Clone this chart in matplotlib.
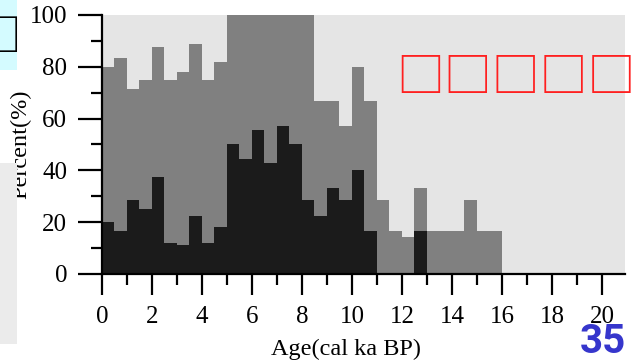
import numpy as np
import matplotlib
matplotlib.use('Agg')
import matplotlib.pyplot as plt
from matplotlib.patches import Rectangle

# bins of 0.5 ka, left edges
bin_start = [0.0, 0.5, 1.0, 1.5, 2.0, 2.5, 3.0, 3.5, 4.0, 4.5,
             5.0, 5.5, 6.0, 6.5, 7.0, 7.5, 8.0, 8.5, 9.0, 9.5,
             10.0, 10.5, 11.0, 11.5, 12.0, 12.5, 13.0, 13.5, 14.0, 14.5,
             15.0, 15.5]
# grey (total) percentages
total_pct = [80, 83.3, 71.4, 75, 87.5, 75, 77.8, 88.9, 75, 81.8,
             100, 100, 100, 100, 100, 100, 100, 66.7, 66.7, 57.1,
             80, 66.7, 28.6, 16.7, 14.3, 33.3, 16.7, 16.7, 16.7, 28.6,
             16.7, 16.7]
# black percentages
dark_pct = [20, 16.7, 28.6, 25, 37.5, 12, 11.1, 22.2, 12, 18.2,
            50, 44.4, 55.6, 42.9, 57.1, 50, 28.6, 22.2, 33.3, 28.6,
            40, 16.7, 0, 0, 0, 16.7, 0, 0, 0, 0,
            0, 0]
title_text = '□□□□□'
side_text = '□'

plt.rcParams['font.family'] = ['Liberation Serif', 'DejaVu Serif']
cjk = ['Noto Sans CJK SC', 'DejaVu Sans']

fig = plt.figure(figsize=(6.35, 3.61), dpi=100)
ax = fig.add_axes([0.1606, 0.241, 0.8236, 0.7175])
ax.set_facecolor('#e5e5e5')

ax.bar(bin_start, total_pct, width=0.5, align='edge', color='#808080', linewidth=0)
ax.bar(bin_start, dark_pct, width=0.5, align='edge', color='#1b1b1b', linewidth=0)

ax.set_xlim(0, 20.92)
ax.set_ylim(0, 100)
ax.set_xticks(np.arange(0, 21, 2))
ax.set_xticks(np.arange(1, 21, 2), minor=True)
ax.set_yticks(np.arange(0, 101, 20))
ax.set_yticks(np.arange(10, 100, 20), minor=True)

for s in ['top', 'right']:
    ax.spines[s].set_visible(False)
ax.spines['left'].set_linewidth(1.6)
ax.spines['bottom'].set_linewidth(1.6)
ax.tick_params(axis='y', which='major', length=17, width=1.6, pad=8, labelsize=18)
ax.tick_params(axis='y', which='minor', length=8, width=1.6)
ax.tick_params(axis='x', which='major', length=15, width=1.6, pad=8, labelsize=18)
ax.tick_params(axis='x', which='minor', length=8, width=1.6)

ax.set_xlabel('Age(cal ka BP)', fontsize=17.5)
ax.xaxis.set_label_coords(0.4675, -0.25)
ax.set_ylabel('Percent(%)', fontsize=17.5)
ax.yaxis.set_label_coords(-0.135, 0.5)

# red title squares
ax.text(0.562, 0.756, title_text, transform=ax.transAxes, color='#ff2020',
        fontsize=34.5, family=cjk, ha='left', va='center', clip_on=False)

# page overlays on the left edge
fig.patches.append(Rectangle((0, 1 - 70 / 361), 17 / 635, 70 / 361, transform=fig.transFigure,
                             facecolor='#d4fbff', edgecolor='none', zorder=5))
fig.text(21.5 / 635, 1 - 38 / 361, side_text, family=cjk, fontsize=32, color='black',
         ha='right', va='center', zorder=6)
fig.patches.append(Rectangle((0, 1 - 344 / 361), 17 / 635, (344 - 163) / 361, transform=fig.transFigure,
                             facecolor='#ebebeb', edgecolor='none', zorder=5))

fig.text(603 / 635, 1 - 342 / 361, '35', color='#3636cc', fontsize=29, fontweight='bold',
         family=['Roboto', 'DejaVu Sans'], ha='center', va='center')

plt.savefig('out.png', dpi=100)
